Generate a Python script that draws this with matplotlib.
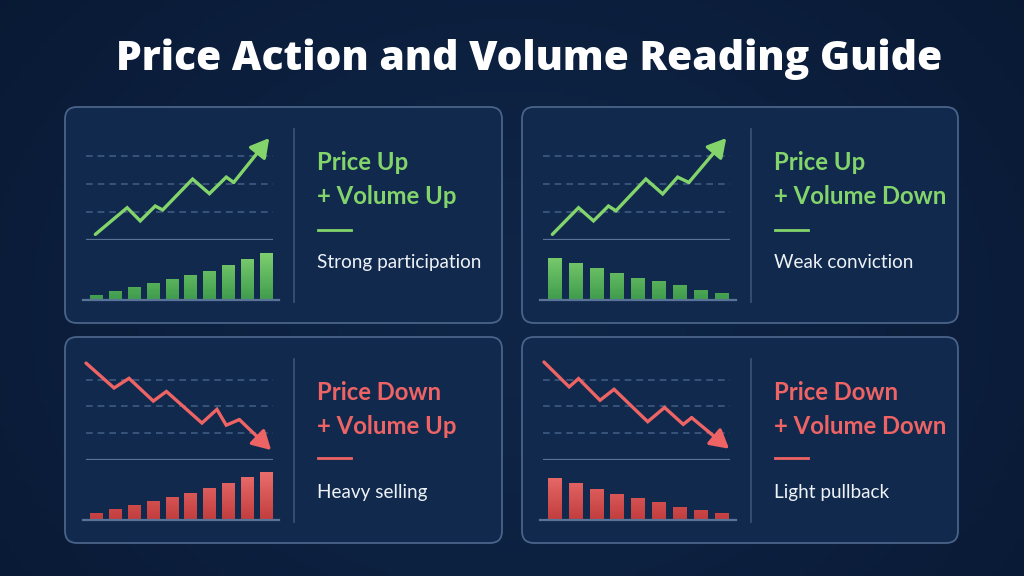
import numpy as np
import matplotlib.pyplot as plt
from matplotlib.patches import FancyBboxPatch
from matplotlib.colors import LinearSegmentedColormap

W, H = 1024, 576

# ---- chart content ----
title = "Price Action and Volume Reading Guide"
headings = [("Price Up", "+ Volume Up"), ("Price Up", "+ Volume Down"),
            ("Price Down", "+ Volume Up"), ("Price Down", "+ Volume Down")]
notes = ["Strong participation", "Weak conviction", "Heavy selling", "Light pullback"]

# price paths (time, price level in grid units)
price_x_1 = [0.5, 2.2, 2.9, 3.7, 4.1, 5.7, 6.6, 7.5, 7.9, 9.8]
price_y_1 = [0.2, 1.15, 0.68, 1.21, 1.07, 2.17, 1.65, 2.24, 2.05, 3.63]
price_x_2 = [0.5, 1.9, 2.7, 3.5, 3.9, 5.5, 6.4, 7.2, 7.8, 9.8]
price_y_2 = [0.2, 1.15, 0.68, 1.21, 1.04, 2.17, 1.64, 2.24, 2.05, 3.63]
price_x_3 = [0.0, 1.5, 2.3, 3.6, 4.3, 6.2, 7.0, 7.5, 8.2, 9.9]
price_y_3 = [3.62, 2.69, 3.05, 2.2, 2.56, 1.38, 1.89, 1.3, 1.51, 0.37]
price_x_4 = [0.05, 1.4, 1.9, 3.05, 3.8, 5.6, 6.5, 7.5, 7.95, 9.95]
price_y_4 = [3.66, 2.73, 3.04, 2.23, 2.64, 1.43, 1.96, 1.33, 1.58, 0.42]

# volume bars
vol_1 = [5, 9, 13, 17, 21, 25, 29, 35, 41, 47]
vol_2 = [42, 37, 32, 27, 22, 19, 15, 10, 7]
vol_3 = [7, 11, 15, 19, 23, 27, 32, 37, 43, 48]
vol_4 = [42, 37, 31, 26, 22, 18, 13, 10, 7]

prices = [(price_x_1, price_y_1), (price_x_2, price_y_2),
          (price_x_3, price_y_3), (price_x_4, price_y_4)]
volumes = [vol_1, vol_2, vol_3, vol_4]

# ---- styling ----
BG = "#0b1d3b"
PANEL = "#112a4e"
BORDER = "#4d678d"
GRID = "#3f5b82"
AXLINE = "#5a7498"
WHITE = "#eef2f7"
GREEN = "#84d46c"
RED = "#ee6464"
green_cmap = LinearSegmentedColormap.from_list("g", ["#3f9c4d", "#8fdc78"])
red_cmap = LinearSegmentedColormap.from_list("r", ["#c23d3e", "#f57b79"])

panels = [(65, 107, 437, 216), (522, 107, 436, 216),
          (65, 337, 437, 206), (522, 337, 436, 206)]
panel_colors = [GREEN, GREEN, RED, RED]
panel_cmaps = [green_cmap, green_cmap, red_cmap, red_cmap]

plt.rcParams["font.family"] = ["Lato", "DejaVu Sans"]

fig = plt.figure(figsize=(W / 100, H / 100), dpi=100)
bg = fig.add_axes([0, 0, 1, 1])
bg.set_xlim(0, W)
bg.set_ylim(H, 0)
bg.axis("off")

# background gradient
yy, xx = np.mgrid[0:1:120j, 0:1:200j]
grad = 0.6 * np.exp(-((xx - 0.5) ** 2 / 0.25 + (yy - 0.55) ** 2 / 0.5))
bg_cmap = LinearSegmentedColormap.from_list("bg", ["#081731", "#10284b"])
bg.imshow(grad, extent=[0, W, H, 0], cmap=bg_cmap, vmin=0, vmax=0.7,
          aspect="auto", zorder=0)

bg.text(529, 70, title, color="white", fontsize=29.3, fontweight="heavy",
        family=["Open Sans", "DejaVu Sans"], ha="center", va="baseline", zorder=5)


def px_axes(x0, y0, x1, y1):
    # axes from pixel box (top-left origin)
    return fig.add_axes([x0 / W, 1 - y1 / H, (x1 - x0) / W, (y1 - y0) / H])


for i, (x0, y0, w, h) in enumerate(panels):
    col = panel_colors[i]
    box = FancyBboxPatch((x0, y0), w, h, boxstyle="round,pad=0,rounding_size=12",
                         fc=PANEL, ec=BORDER, lw=1.3, alpha=0.95, zorder=1)
    bg.add_patch(box)

    # divider
    dx = x0 + 229
    bg.plot([dx, dx], [y0 + 22, y0 + h - 21], color="#3c5577", lw=1.2, zorder=2)

    # text block
    tx = x0 + 252
    bg.text(tx, y0 + 63, headings[i][0], color=col, fontsize=17.2,
            fontweight="bold", va="baseline", ha="left", zorder=5)
    bg.text(tx, y0 + 97, headings[i][1], color=col, fontsize=17.2,
            fontweight="bold", va="baseline", ha="left", zorder=5)
    ly = y0 + 123 if h > 210 else y0 + 121
    bg.plot([tx + 1, tx + 34], [ly, ly], color=col, lw=2, zorder=5)
    bg.text(tx, y0 + 161, notes[i], color=WHITE, fontsize=13.6,
            va="baseline", ha="left", zorder=5)

    # price chart
    base = y0 + h - 83
    sp = 0.13 * h
    pax = px_axes(x0 + 21, base - 4 * sp, x0 + 208, base)
    pax.set_xlim(0, 10)
    pax.set_ylim(0, 4)
    pax.axis("off")
    for g in (1, 2, 3):
        pax.axhline(g, color=GRID, lw=1.2, ls=(0, (4, 3)), zorder=1)
    pax.axhline(0, color=AXLINE, lw=1.6, zorder=1)
    px, py = prices[i]
    pax.plot(px[:-1], py[:-1], color=col, lw=2.4, solid_joinstyle="miter",
             solid_capstyle="round", zorder=3, clip_on=False)
    pax.annotate("", xy=(px[-1], py[-1]), xytext=(px[-2], py[-2]),
                 arrowprops=dict(arrowstyle="-|>,head_length=0.8,head_width=0.45",
                                 color=col, lw=2.4, shrinkA=0, shrinkB=0,
                                 mutation_scale=14),
                 zorder=3, annotation_clip=False)

    # volume bars
    vax = px_axes(x0 + 18, base, x0 + 214, y0 + h - 23)
    vals = volumes[i]
    n = len(vals)
    bars = vax.bar(np.arange(n), vals, width=0.64, color=col, zorder=2)
    for b in bars:
        bx = b.get_x()
        im = vax.imshow(np.linspace(0, 1, 50).reshape(-1, 1), cmap=panel_cmaps[i],
                        extent=[bx, bx + b.get_width(), 0, 60], origin="lower",
                        aspect="auto", zorder=3)
        im.set_clip_path(b)
    vax.set_xlim(-0.7, n - 0.3)
    vax.set_ylim(0, 60)
    vax.axis("off")
    vax.axhline(0, color=AXLINE, lw=1.6, zorder=4, clip_on=False)

fig.savefig("out.png", dpi=100, facecolor=BG)
